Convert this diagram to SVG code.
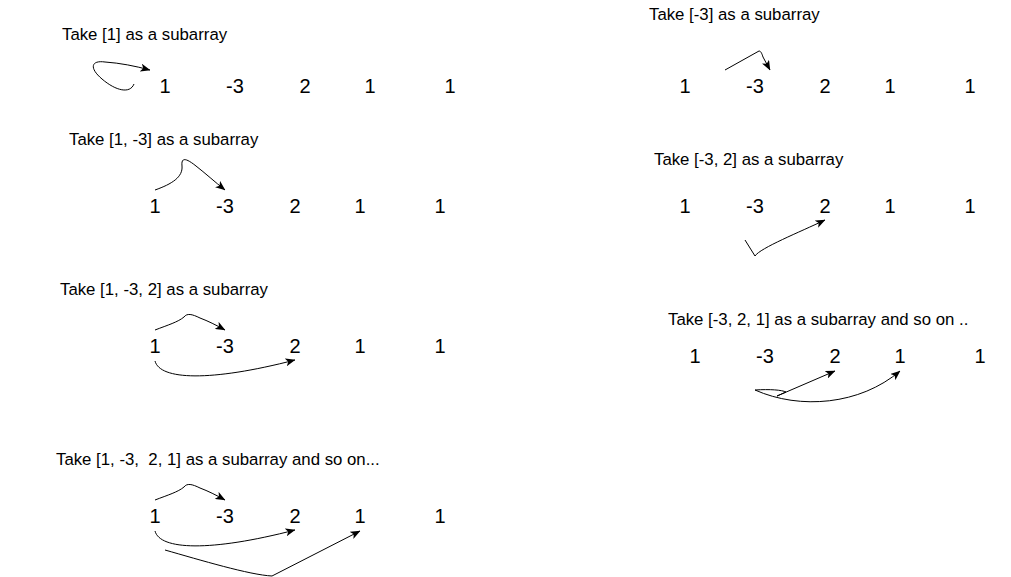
<svg xmlns="http://www.w3.org/2000/svg" width="1011" height="577" viewBox="0 0 1011 577">
<defs>
<marker id="ah" markerUnits="userSpaceOnUse" markerWidth="10" markerHeight="8" viewBox="0 0 10 8" refX="9.5" refY="4" orient="auto">
<path d="M0,0 L10,4 L0,8 L2.5,4 Z" fill="#000"/>
</marker>
</defs>
<style>
.lbl{font-family:"Liberation Sans",Arial,sans-serif;font-size:16.8px;fill:#000;white-space:pre}
.num{font-family:"Liberation Sans",Arial,sans-serif;font-size:20px;fill:#000;text-anchor:middle}
.c{fill:none;stroke:#000;stroke-width:1}
.a{marker-end:url(#ah)}
</style>
<rect width="1011" height="577" fill="#fff"/>
<g id="labels">
<text class="lbl" x="62" y="40">Take [1] as a subarray</text>
<text class="lbl" x="69" y="145">Take [1, -3] as a subarray</text>
<text class="lbl" x="60" y="295">Take [1, -3, 2] as a subarray</text>
<text class="lbl" x="56" y="465" xml:space="preserve">Take [1, -3,  2, 1] as a subarray and so on...</text>
<text class="lbl" x="649" y="20">Take [-3] as a subarray</text>
<text class="lbl" x="654" y="165">Take [-3, 2] as a subarray</text>
<text class="lbl" x="668" y="325">Take [-3, 2, 1] as a subarray and so on ..</text>
</g>
<g id="row1">
<text class="num" x="165" y="93">1</text><text class="num" x="235" y="93">-3</text><text class="num" x="305" y="93">2</text><text class="num" x="370" y="93">1</text><text class="num" x="450" y="93">1</text>
</g>
<g id="row2">
<text class="num" x="155" y="213">1</text><text class="num" x="225" y="213">-3</text><text class="num" x="295" y="213">2</text><text class="num" x="360" y="213">1</text><text class="num" x="440" y="213">1</text>
</g>
<g id="row3">
<text class="num" x="155" y="353">1</text><text class="num" x="225" y="353">-3</text><text class="num" x="295" y="353">2</text><text class="num" x="360" y="353">1</text><text class="num" x="440" y="353">1</text>
</g>
<g id="row4">
<text class="num" x="155" y="523">1</text><text class="num" x="225" y="523">-3</text><text class="num" x="295" y="523">2</text><text class="num" x="360" y="523">1</text><text class="num" x="440" y="523">1</text>
</g>
<g id="rrow1">
<text class="num" x="685" y="93">1</text><text class="num" x="755" y="93">-3</text><text class="num" x="825" y="93">2</text><text class="num" x="890" y="93">1</text><text class="num" x="970" y="93">1</text>
</g>
<g id="rrow2">
<text class="num" x="685" y="213">1</text><text class="num" x="755" y="213">-3</text><text class="num" x="825" y="213">2</text><text class="num" x="890" y="213">1</text><text class="num" x="970" y="213">1</text>
</g>
<g id="rrow3">
<text class="num" x="695" y="363">1</text><text class="num" x="765" y="363">-3</text><text class="num" x="835" y="363">2</text><text class="num" x="900" y="363">1</text><text class="num" x="980" y="363">1</text>
</g>
<g id="connectors">
<path class="c a" d="M134,84 C130,94 116,91 102,79 C89,68 91,60 105,62 C120,63 135,66 150,70"/>
<path class="c a" d="M155,190 C172,184 183,177 182,166 C181,157 186,158 196,166 C205,173 215,182 225,190"/>
<path class="c a" d="M155,330 C168,325 178,322 184,317 C187,313 192,314 200,318 C208,321 216,325 225,330"/>
<path class="c a" d="M155,361 C160,380 210,382 295,360"/>
<path class="c a" d="M155,500 C168,495 178,492 184,487 C187,483 192,484 200,488 C208,491 216,495 225,500"/>
<path class="c a" d="M155,531 C160,550 210,552 295,530"/>
<path class="c a" d="M165,550 C200,560 250,575 272,576 L360,531"/>
<path class="c a" d="M725,70 L759,51 C761,51 762,54 763,57 L770,70"/>
<path class="c a" d="M745,240 L755,256 C760,248 800,232 825,220"/>
<path class="c" d="M755,390 C770,389 782,390 786,392 L777,396"/>
<path class="c a" d="M777,396 L835,371"/>
<path class="c a" d="M755,390 C800,410 860,405 900,371"/>
</g>
</svg>
